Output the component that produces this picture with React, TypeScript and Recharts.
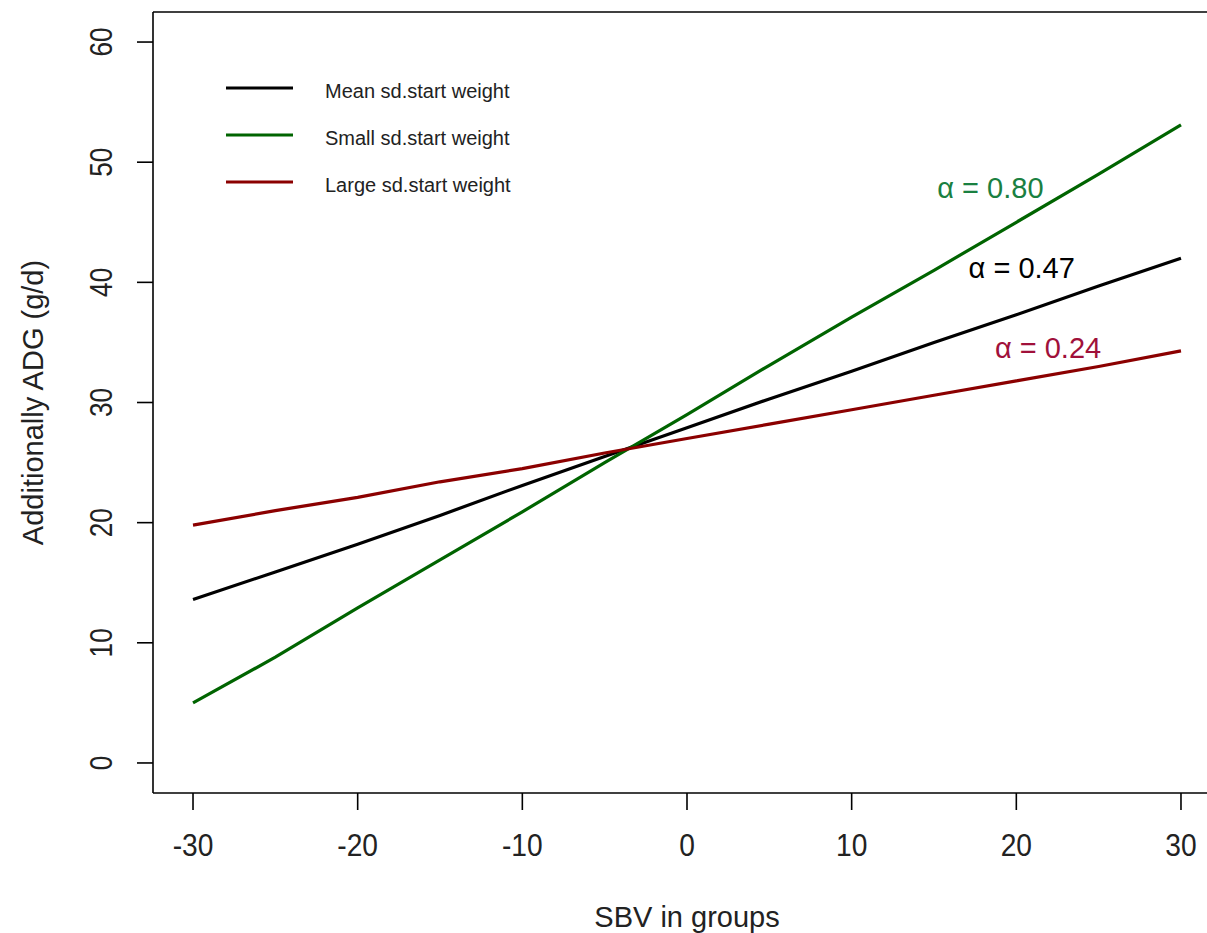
import React from 'react';
import { LineChart, Line, XAxis, YAxis, ReferenceLine, ReferenceDot, Legend, Label } from 'recharts';

const sbv = [-30, -25, -20, -15, -10, -5, 0, 5, 10, 15, 20, 25, 30];
const meanSd = [13.6, 15.9, 18.2, 20.6, 23.1, 25.5, 27.9, 30.3, 32.6, 35.0, 37.3, 39.7, 42.0];
const smallSd = [5.0, 8.8, 12.9, 16.9, 20.9, 25.0, 29.0, 33.1, 37.1, 41.0, 45.0, 49.0, 53.1];
const largeSd = [19.8, 21.0, 22.1, 23.4, 24.5, 25.8, 27.0, 28.2, 29.4, 30.6, 31.8, 33.0, 34.3];
const xTicks = [-30, -20, -10, 0, 10, 20, 30];
const yTicks = [0, 10, 20, 30, 40, 50, 60];
const seriesNames = ['Mean sd.start weight', 'Small sd.start weight', 'Large sd.start weight'];
const seriesColors = ['#000000', '#006400', '#8B0000'];
const alphaLabels = ['α = 0.80', 'α = 0.47', 'α = 0.24'];
const alphaColors = ['#1a8041', '#000000', '#a0103a'];
const alphaX = [15.2, 17.1, 18.7];
const alphaY = [47.0, 40.4, 33.7];
const xTitle = 'SBV in groups';
const yTitle = 'Additionally ADG (g/d)';

const data = sbv.map((x, i) => ({ x, mean: meanSd[i], small: smallSd[i], large: largeSd[i] }));

const FONT = '"Liberation Sans", Arial, sans-serif';

const XTick = (p: any) => (
  <g transform={`translate(${p.x},${p.y})`}>
    <text x={0} y={46} textAnchor="middle" fontSize={32} fontFamily={FONT} fill="#222" transform="scale(0.88,1)">
      {p.payload.value}
    </text>
  </g>
);

const YTick = (p: any) => (
  <g transform={`translate(${p.x - 25},${p.y}) rotate(-90)`}>
    <text x={0} y={0} textAnchor="middle" fontSize={32} fontFamily={FONT} fill="#222" transform="scale(0.82,1)">
      {p.payload.value}
    </text>
  </g>
);

const LegendContent = (props: any) => {
  const items = [...(props.payload || [])].sort(
    (a: any, b: any) => seriesNames.indexOf(a.value) - seriesNames.indexOf(b.value)
  );
  return (
    <svg width={320} height={150} style={{ display: 'block' }}>
      {items.map((it: any, i: number) => (
        <g key={i}>
          <line x1={6} x2={73} y1={28 + i * 47} y2={28 + i * 47} stroke={it.color} strokeWidth={3} />
          <text x={105} y={38 + i * 47} fontSize={20} fontFamily={FONT} fill="#222">
            {it.value}
          </text>
        </g>
      ))}
    </svg>
  );
};

export default function App() {
  return (
    <div style={{ position: 'absolute', left: 0, top: 0, width: 1207, height: 933, overflow: 'hidden', background: '#fff' }}>
      <LineChart width={1207} height={933} data={data} margin={{ top: 12, right: 0, bottom: 0, left: 0 }}>
        <XAxis
          type="number"
          dataKey="x"
          domain={[-32.43, 31.58]}
          ticks={xTicks}
          interval={0}
          allowDataOverflow
          height={140}
          tickSize={17}
          tickMargin={0}
          axisLine={{ stroke: '#000', strokeWidth: 1.6 }}
          tickLine={{ stroke: '#000', strokeWidth: 1.6 }}
          tick={(p: any) => <XTick {...p} />}
        >
          <Label
            content={(lp: any) => {
              const vb = lp.viewBox || { x: 153, y: 793, width: 1054, height: 140 };
              return (
                <text x={vb.x + vb.width / 2 + 7} y={vb.y + 134} textAnchor="middle" fontSize={29} fontFamily={FONT} fill="#222">
                  {xTitle}
                </text>
              );
            }}
          />
        </XAxis>
        <YAxis
          type="number"
          domain={[-2.5, 62.5]}
          ticks={yTicks}
          interval={0}
          allowDataOverflow
          width={153}
          tickSize={16}
          tickMargin={0}
          axisLine={{ stroke: '#000', strokeWidth: 1.6 }}
          tickLine={{ stroke: '#000', strokeWidth: 1.6 }}
          tick={(p: any) => <YTick {...p} />}
        >
          <Label
            content={(lp: any) => {
              const vb = lp.viewBox || { x: 0, y: 12, width: 153, height: 781 };
              return (
                <text
                  transform={`translate(${vb.x + 43},${vb.y + vb.height / 2}) rotate(-90)`}
                  textAnchor="middle"
                  fontSize={29}
                  fontFamily={FONT}
                  fill="#222"
                >
                  {yTitle}
                </text>
              );
            }}
          />
        </YAxis>
        <ReferenceLine y={62.5} stroke="#000" strokeWidth={1.6} ifOverflow="visible" />
        <Legend
          layout="vertical"
          align="center"
          verticalAlign="middle"
          wrapperStyle={{ position: 'absolute', left: 220, top: 60, width: 320, height: 150 }}
          content={(p: any) => <LegendContent {...p} />}
        />
        <Line type="linear" dataKey="mean" name={seriesNames[0]} stroke={seriesColors[0]} strokeWidth={3.2} dot={false} isAnimationActive={false} />
        <Line type="linear" dataKey="small" name={seriesNames[1]} stroke={seriesColors[1]} strokeWidth={3.2} dot={false} isAnimationActive={false} />
        <Line type="linear" dataKey="large" name={seriesNames[2]} stroke={seriesColors[2]} strokeWidth={3.2} dot={false} isAnimationActive={false} />
        {alphaLabels.map((t, i) => (
          <ReferenceDot
            key={t}
            x={alphaX[i]}
            y={alphaY[i]}
            r={0}
            ifOverflow="visible"
            shape={(sp: any) => (
              <text x={sp.cx} y={sp.cy} fontSize={29} fontFamily={FONT} fill={alphaColors[i]}>
                {t}
              </text>
            )}
          />
        ))}
      </LineChart>
    </div>
  );
}
